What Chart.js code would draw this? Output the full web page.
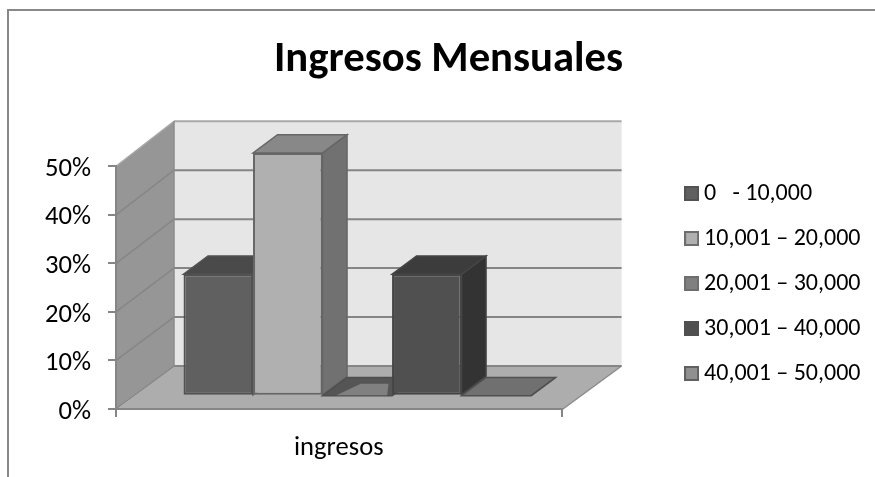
<!DOCTYPE html>
<html>
<head>
<meta charset="utf-8">
<title>Ingresos Mensuales</title>
<script src="https://cdn.jsdelivr.net/npm/chart.js@4"></script>
<style>
  html, body { margin: 0; padding: 0; background: #fff; overflow: hidden; }
  #frame { position: absolute; left: 7px; top: 9px; right: 0; bottom: 0; border-left: 2px solid #888; border-top: 2px solid #888; }
  #wrap { position: absolute; left: 0; top: 0; width: 875px; height: 477px; }
</style>
</head>
<body>
<div id="frame"></div>
<div id="wrap"><canvas id="chart" width="875" height="477"></canvas></div>
<script>
// --- Data ---
const categories = ["ingresos"];
const rangeLabels = ["0   - 10,000", "10,001 – 20,000", "20,001 – 30,000", "30,001 – 40,000", "40,001 – 50,000"];
const percentValues = [25, 50, 0, 25, 0];
const yTicks = { min: 0, max: 50, step: 10 };

// --- Bar shades ---
const frontColors = ["#606060", "#b0b0b0", "#808080", "#505050", "#909090"];
const topColors = ["#4a4a4a", "#888888", "#555555", "#3c3c3c", "#707070"];
const sideColors = ["#474747", "#717171", "#5a5a5a", "#333333", "#666666"];
const edgeColors = ["#525252", "#666666", "#4e4e4e", "#454545", "#505050"];
const swatchEdges = ["#525252", "#6e6e6e", "#6e6e6e", "#505050", "#606060"];

// --- 3D box settings ---
const barDepth = { x: 24.5, y: 18.3 };
const barShift = { x: 18.5, y: -13.3 };
const wall = { left: 58, right: 60, rise: 43, stretch: 0.04 };
const legendNudge = { x: -4.5, y: 45 };
const yLabelDrop = 1.5;

function swatch(fill, edge) {
  const c = document.createElement("canvas");
  c.width = 15;
  c.height = 15;
  const g = c.getContext("2d");
  g.fillStyle = fill;
  g.fillRect(0, 0, 15, 15);
  g.strokeStyle = edge;
  g.lineWidth = 2;
  g.strokeRect(1, 1, 13, 13);
  return c;
}

function poly(ctx, pts, fill, stroke, width) {
  ctx.beginPath();
  pts.forEach((p, i) => (i ? ctx.lineTo(p[0], p[1]) : ctx.moveTo(p[0], p[1])));
  ctx.closePath();
  if (fill) {
    ctx.fillStyle = fill;
    ctx.fill();
  }
  if (stroke) {
    ctx.strokeStyle = stroke;
    ctx.lineWidth = width;
    ctx.stroke();
  }
}

// Back wall, side wall, floor and their gridlines
const wallsPlugin = {
  id: "walls",
  afterLayout(chart) {
    const lg = chart.legend;
    lg.left += legendNudge.x;
    lg.right += legendNudge.x;
    lg.top += legendNudge.y;
    lg.bottom += legendNudge.y;
  },
  beforeDraw(chart) {
    const { ctx, chartArea: a, scales } = chart;
    const y = scales.y;
    const backY = (v) => y.getPixelForValue(v) - wall.rise - v * wall.stretch;
    const bl = a.left + wall.left;
    const br = a.right + wall.right;
    const y0 = y.getPixelForValue(yTicks.min);
    const y1 = y.getPixelForValue(yTicks.max);
    ctx.save();
    poly(ctx, [[bl, backY(yTicks.min)], [br, backY(yTicks.min)], [br, backY(yTicks.max)], [bl, backY(yTicks.max)]], "#e6e6e6");
    poly(ctx, [[a.left, y0], [bl, backY(yTicks.min)], [bl, backY(yTicks.max)], [a.left, y1]], "#969696");
    poly(ctx, [[a.left, y0 + 1], [a.right, y0 + 1], [br, backY(yTicks.min)], [bl, backY(yTicks.min)]], "#adadad");

    for (let v = yTicks.min; v <= yTicks.max; v += yTicks.step) {
      ctx.beginPath();
      ctx.moveTo(bl, backY(v));
      ctx.lineTo(br, backY(v));
      ctx.strokeStyle = v === yTicks.max ? "#a8a8a8" : "#858585";
      ctx.lineWidth = 2;
      ctx.stroke();
      ctx.beginPath();
      ctx.moveTo(a.left, y.getPixelForValue(v));
      ctx.lineTo(bl, backY(v));
      ctx.strokeStyle = v === yTicks.max ? "#a8a8a8" : "#868686";
      ctx.lineWidth = 1.5;
      ctx.stroke();
    }
    // wall and floor edges
    ctx.strokeStyle = "#8c8c8c";
    ctx.lineWidth = 1.5;
    ctx.beginPath();
    ctx.moveTo(bl, backY(yTicks.max));
    ctx.lineTo(bl, backY(yTicks.min));
    ctx.moveTo(a.right, y0 + 1);
    ctx.lineTo(br, backY(yTicks.min));
    ctx.stroke();
    ctx.restore();
  },
};

// Top and side faces go under the bars, which are then moved onto the floor
const boxPlugin = {
  id: "boxes",
  beforeDatasetsDraw(chart) {
    const { ctx } = chart;
    ctx.save();
    ctx.translate(barShift.x, barShift.y);
    const dx = barDepth.x;
    const dy = barDepth.y;
    chart.data.datasets.forEach((ds, i) => {
      const bar = chart.getDatasetMeta(i).data[0];
      const l = bar.x - bar.width / 2;
      const r = bar.x + bar.width / 2;
      const t = bar.y;
      const b = bar.base;
      poly(ctx, [[r, t], [r + dx, t - dy], [r + dx, b - dy], [r, b]], sideColors[i], edgeColors[i], 1.5);
      poly(ctx, [[l, t], [r, t], [r + dx, t - dy], [l + dx, t - dy]], topColors[i], edgeColors[i], 1.5);
      // an empty bar shows a paler patch on its lid
      if (i === 2) {
        const w = bar.width;
        const at = (u, v) => [l + u * w + v * dx, t - v * dy];
        poly(ctx, [at(0.19, 0.03), at(0.32, 0.65), at(0.72, 0.65), at(0.92, 0.03)], frontColors[i]);
      }
    });
  },
  afterDatasetsDraw(chart) {
    chart.ctx.restore();
  },
};

const datasets = rangeLabels.map((label, i) => ({
  label: label,
  data: [percentValues[i]],
  backgroundColor: frontColors[i],
  borderColor: edgeColors[i],
  borderWidth: 2,
  borderSkipped: false,
  clip: false,
  categoryPercentage: 0.78,
  barPercentage: 1,
}));

const labelFont = "Carlito, Calibri, Lato, sans-serif";

new Chart(document.getElementById("chart").getContext("2d"), {
  type: "bar",
  data: { labels: categories, datasets: datasets },
  plugins: [wallsPlugin, boxPlugin],
  options: {
    responsive: false,
    animation: false,
    layout: { padding: { left: 22, right: 0 } },
    plugins: {
      title: {
        display: true,
        text: "Ingresos Mensuales",
        color: "#000",
        font: { family: labelFont, size: 42.7, weight: "bold" },
        padding: { top: 35, bottom: 80 },
      },
      legend: {
        position: "right",
        maxWidth: 260,
        labels: {
          color: "#000",
          font: { family: labelFont, size: 24 },
          padding: 21,
          usePointStyle: true,
          pointStyleWidth: 1,
          generateLabels(chart) {
            const items = Chart.defaults.plugins.legend.labels.generateLabels(chart);
            items.forEach((it, i) => {
              it.pointStyle = swatch(frontColors[i], swatchEdges[i]);
            });
            return items;
          },
        },
      },
      tooltip: { enabled: false },
    },
    scales: {
      x: {
        grid: { drawOnChartArea: false, color: "#868686", lineWidth: 2, tickLength: 8 },
        border: { color: "#868686", width: 2 },
        ticks: { color: "#000", font: { family: labelFont, size: 26.6 }, padding: 15 },
        afterFit(s) {
          s.height = 68;
        },
      },
      y: {
        min: yTicks.min,
        max: yTicks.max,
        grid: { drawOnChartArea: false, color: "#868686", lineWidth: 2, tickLength: 8 },
        border: { color: "#868686", width: 2 },
        ticks: {
          stepSize: yTicks.step,
          color: "#000",
          font: { family: labelFont, size: 26.6 },
          padding: 17,
          callback: (v) => v + "%",
        },
        afterFit(s) {
          s.width = 94;
        },
        // percent labels sit a little under their tick marks
        afterUpdate(s) {
          const drawLabels = s.drawLabels;
          s.drawLabels = function (area) {
            s.ctx.save();
            s.ctx.translate(0, yLabelDrop);
            drawLabels.call(s, area);
            s.ctx.restore();
          };
        },
      },
      // keeps the legend clear of the floor and walls
      gap: {
        position: "right",
        display: true,
        grid: { display: false },
        border: { display: false },
        ticks: { display: false },
        afterFit(s) {
          s.width = 113;
        },
      },
    },
  },
});
</script>
</body>
</html>
